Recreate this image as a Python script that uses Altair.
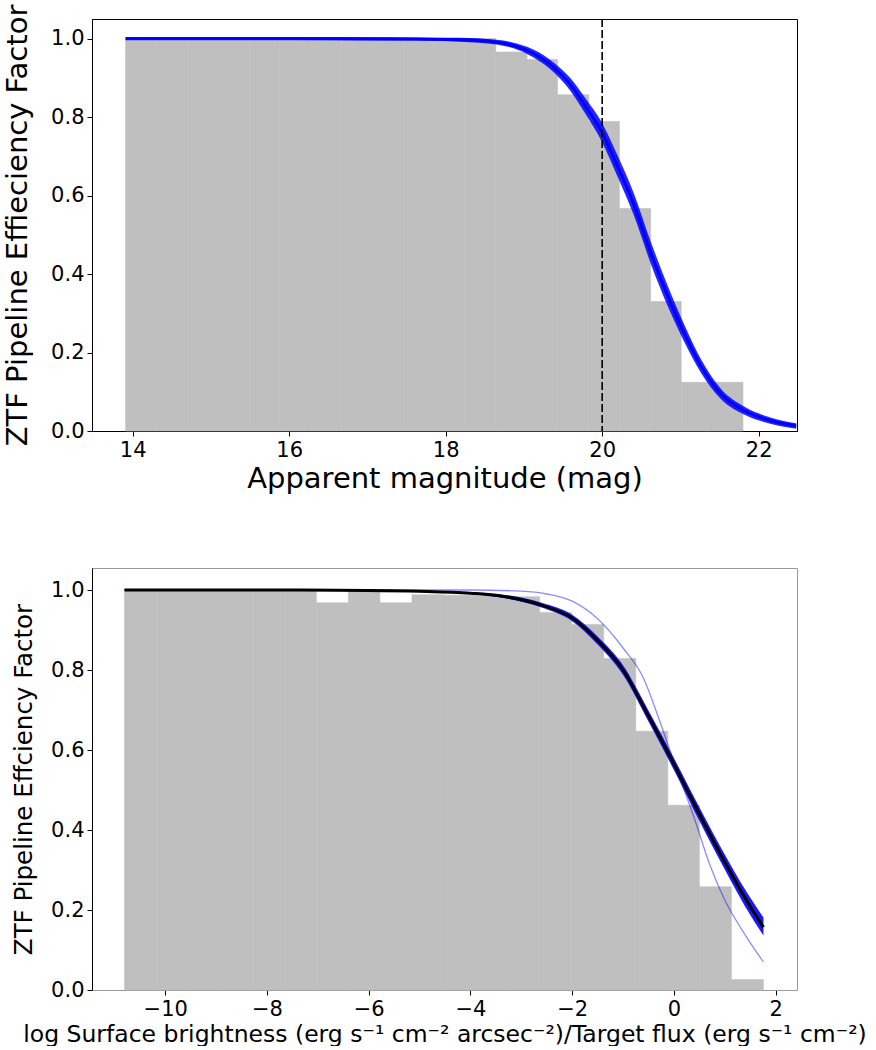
import altair as alt
import pandas as pd

FONT = "DejaVu Sans"

# ---------------- top panel data ----------------
top_edges = [13.91, 14.30, 14.70, 15.09, 15.49, 15.88, 16.28, 16.67, 17.07, 17.46, 17.85,
             18.25, 18.64, 19.04, 19.43, 19.83, 20.22, 20.62, 21.01, 21.41, 21.80]
top_heights = [1.0, 1.0, 1.0, 1.0, 1.0, 1.0, 1.0, 1.0, 1.0, 1.0, 1.0, 1.0,
               0.966, 0.947, 0.857, 0.789, 0.567, 0.330, 0.124, 0.124]

top_mag = [13.91, 15.0, 16.0, 17.0, 17.6, 18.19, 18.65, 19.04, 19.33, 19.59, 19.8,
           19.99, 20.19, 20.41, 20.62, 20.84, 21.05, 21.27, 21.52, 21.82, 22.16, 22.48]
top_eff = [1.0, 1.0, 1.0, 0.9995, 0.999, 0.997, 0.991, 0.970, 0.935, 0.884, 0.824,
           0.764, 0.678, 0.575, 0.455, 0.343, 0.249, 0.163, 0.094, 0.0515, 0.026, 0.013]
top_upper = [1.004, 1.004, 1.004, 1.0035, 1.003, 1.002, 0.997, 0.979, 0.947, 0.900, 0.844,
             0.788, 0.705, 0.603, 0.483, 0.369, 0.271, 0.180, 0.107, 0.0615, 0.034, 0.020]
top_lower = [0.996, 0.996, 0.996, 0.9955, 0.995, 0.992, 0.985, 0.961, 0.923, 0.868, 0.804,
             0.740, 0.651, 0.547, 0.427, 0.317, 0.227, 0.146, 0.081, 0.0415, 0.018, 0.006]
mag_cut = [20]
mag_ticks = [14, 16, 18, 20, 22]

# ---------------- bottom panel data ----------------
bot_edges = [-10.80, -10.17, -9.54, -8.92, -8.29, -7.66, -7.03, -6.40, -5.78, -5.15, -4.52,
             -3.89, -3.26, -2.64, -2.01, -1.38, -0.75, -0.12, 0.50, 1.13, 1.76]
bot_heights = [1.0, 1.0, 1.0, 1.0, 1.0, 1.0, 0.968, 1.0, 0.968, 0.988,
               0.987, 0.986, 0.983, 0.944, 0.914, 0.829, 0.647, 0.462, 0.258, 0.026]

bot_x = [-10.8, -8.0, -6.0, -5.0, -4.0, -3.4, -2.6, -2.0, -1.5, -1.0, -0.5, 0.0, 0.5, 1.0, 1.4, 1.76]
bot_fit = [1.0, 1.0, 0.999, 0.997, 0.992, 0.985, 0.962, 0.93, 0.874, 0.80, 0.685, 0.565, 0.44, 0.32, 0.23, 0.157]
bot_upper = [1.002, 1.002, 1.001, 0.999, 0.994, 0.989, 0.968, 0.938, 0.884, 0.812, 0.699, 0.580, 0.457, 0.339, 0.251, 0.181]
bot_lower = [0.998, 0.998, 0.997, 0.995, 0.990, 0.981, 0.956, 0.922, 0.864, 0.788, 0.671, 0.550, 0.423, 0.301, 0.209, 0.136]

thin_x = [-10.8, -4.0, -3.0, -2.5, -2.0, -1.5, -1.0, -0.6, -0.3, 0.0, 0.4, 0.7, 1.0, 1.35, 1.76]
thin_y = [1.0, 1.0, 0.997, 0.99, 0.972, 0.928, 0.855, 0.78, 0.68, 0.57, 0.43, 0.315, 0.225, 0.148, 0.07]
bot_ticks = [-10, -8, -6, -4, -2, 0, 2]

eff_ticks = [0.0, 0.2, 0.4, 0.6, 0.8, 1.0]

# ---------------- frames ----------------
top_hist = pd.DataFrame({"x": top_edges[:-1], "x1": top_edges[1:], "y": top_heights})
top_curve = pd.DataFrame({"x": top_mag, "y": top_eff, "lo": top_lower, "hi": top_upper})
top_cut = pd.DataFrame({"x": mag_cut})

bot_hist = pd.DataFrame({"x": bot_edges[:-1], "x1": bot_edges[1:], "y": bot_heights})
bot_curve = pd.DataFrame({"x": bot_x, "y": bot_fit, "lo": bot_lower, "hi": bot_upper})
bot_thin = pd.DataFrame({"x": thin_x, "y": thin_y})

# ---------------- scales / axes ----------------
xs_top = alt.Scale(domain=[13.48, 22.49], nice=False, zero=False)
ys_top = alt.Scale(domain=[0, 1.05], nice=False, zero=False)
xs_bot = alt.Scale(domain=[-11.44, 2.42], nice=False, zero=False)
ys_bot = alt.Scale(domain=[0, 1.055], nice=False, zero=False)

common = dict(grid=False, labelFont=FONT, titleFont=FONT, labelColor="black",
              titleColor="black", tickColor="black", tickSize=5, labelPadding=3,
              titleFontWeight="normal", labelFlush=False, labelOverlap=False,
              labelFontSize=21)

ax_top_x = alt.Axis(values=mag_ticks, format="d", title="Apparent magnitude (mag)",
                    titleFontSize=29, titlePadding=4,
                    domainColor="black", **common)
ax_top_y = alt.Axis(values=eff_ticks, format=".1f", title="ZTF Pipeline Effieciency Factor",
                    titleFontSize=29, titlePadding=18,
                    domainColor="black", **common)
ax_bot_x = alt.Axis(values=bot_ticks, format="d",
                    title="log Surface brightness (erg s\u207b\u00b9 cm\u207b\u00b2 arcsec\u207b\u00b2)/Target flux (erg s\u207b\u00b9 cm\u207b\u00b2)",
                    titleFontSize=23.5, titlePadding=3,
                    domainColor="#999999", **common)
ax_bot_y = alt.Axis(values=eff_ticks, format=".1f", title="ZTF Pipeline Effciency Factor",
                    titleFontSize=24.5, titlePadding=14,
                    domainColor="black", **common)

GRAY = "#bfbfbf"

# ---------------- top panel ----------------
t_hist = alt.Chart(top_hist).mark_rect(color=GRAY, stroke=GRAY, strokeWidth=0.6).encode(
    x=alt.X("x:Q", scale=xs_top, axis=ax_top_x),
    x2="x1:Q",
    y=alt.Y("y:Q", scale=ys_top, axis=ax_top_y),
    y2=alt.datum(0),
)
t_band = alt.Chart(top_curve).mark_area(color="#0000ff", opacity=0.85, interpolate="monotone").encode(
    x=alt.X("x:Q", scale=xs_top, axis=ax_top_x),
    y=alt.Y("lo:Q", scale=ys_top, axis=ax_top_y),
    y2="hi:Q",
)
t_line = alt.Chart(top_curve).mark_line(color="#0000ff", strokeWidth=3, interpolate="monotone").encode(
    x=alt.X("x:Q", scale=xs_top, axis=ax_top_x),
    y=alt.Y("y:Q", scale=ys_top, axis=ax_top_y),
)
t_cut = alt.Chart(top_cut).mark_rule(color="black", strokeWidth=1.6, strokeDash=[8, 3]).encode(
    x=alt.X("x:Q", scale=xs_top, axis=ax_top_x),
)
top = alt.layer(t_hist, t_band, t_line, t_cut).properties(
    width=705, height=412, view=alt.ViewBackground(stroke="black", strokeWidth=1)
)

# ---------------- bottom panel ----------------
b_hist = alt.Chart(bot_hist).mark_rect(color=GRAY, stroke=GRAY, strokeWidth=0.6).encode(
    x=alt.X("x:Q", scale=xs_bot, axis=ax_bot_x),
    x2="x1:Q",
    y=alt.Y("y:Q", scale=ys_bot, axis=ax_bot_y),
    y2=alt.datum(0),
)
b_band = alt.Chart(bot_curve).mark_area(color="#0000ff", opacity=0.9, interpolate="monotone").encode(
    x=alt.X("x:Q", scale=xs_bot, axis=ax_bot_x),
    y=alt.Y("lo:Q", scale=ys_bot, axis=ax_bot_y),
    y2="hi:Q",
)
b_thin = alt.Chart(bot_thin).mark_line(color="#0000ff", opacity=0.45, strokeWidth=1.3, interpolate="monotone").encode(
    x=alt.X("x:Q", scale=xs_bot, axis=ax_bot_x),
    y=alt.Y("y:Q", scale=ys_bot, axis=ax_bot_y),
)
b_line = alt.Chart(bot_curve).mark_line(color="black", strokeWidth=3, interpolate="monotone").encode(
    x=alt.X("x:Q", scale=xs_bot, axis=ax_bot_x),
    y=alt.Y("y:Q", scale=ys_bot, axis=ax_bot_y),
)
bottom = alt.layer(b_hist, b_band, b_thin, b_line).properties(
    width=705, height=422, view=alt.ViewBackground(stroke="#999999", strokeWidth=1)
)

chart = alt.vconcat(top, bottom, spacing=73).properties(
    padding={"left": 3, "top": 3, "right": 5, "bottom": 0}
).configure(font=FONT)

chart.save("out.html", embed_options={"renderer": "svg", "actions": False})
